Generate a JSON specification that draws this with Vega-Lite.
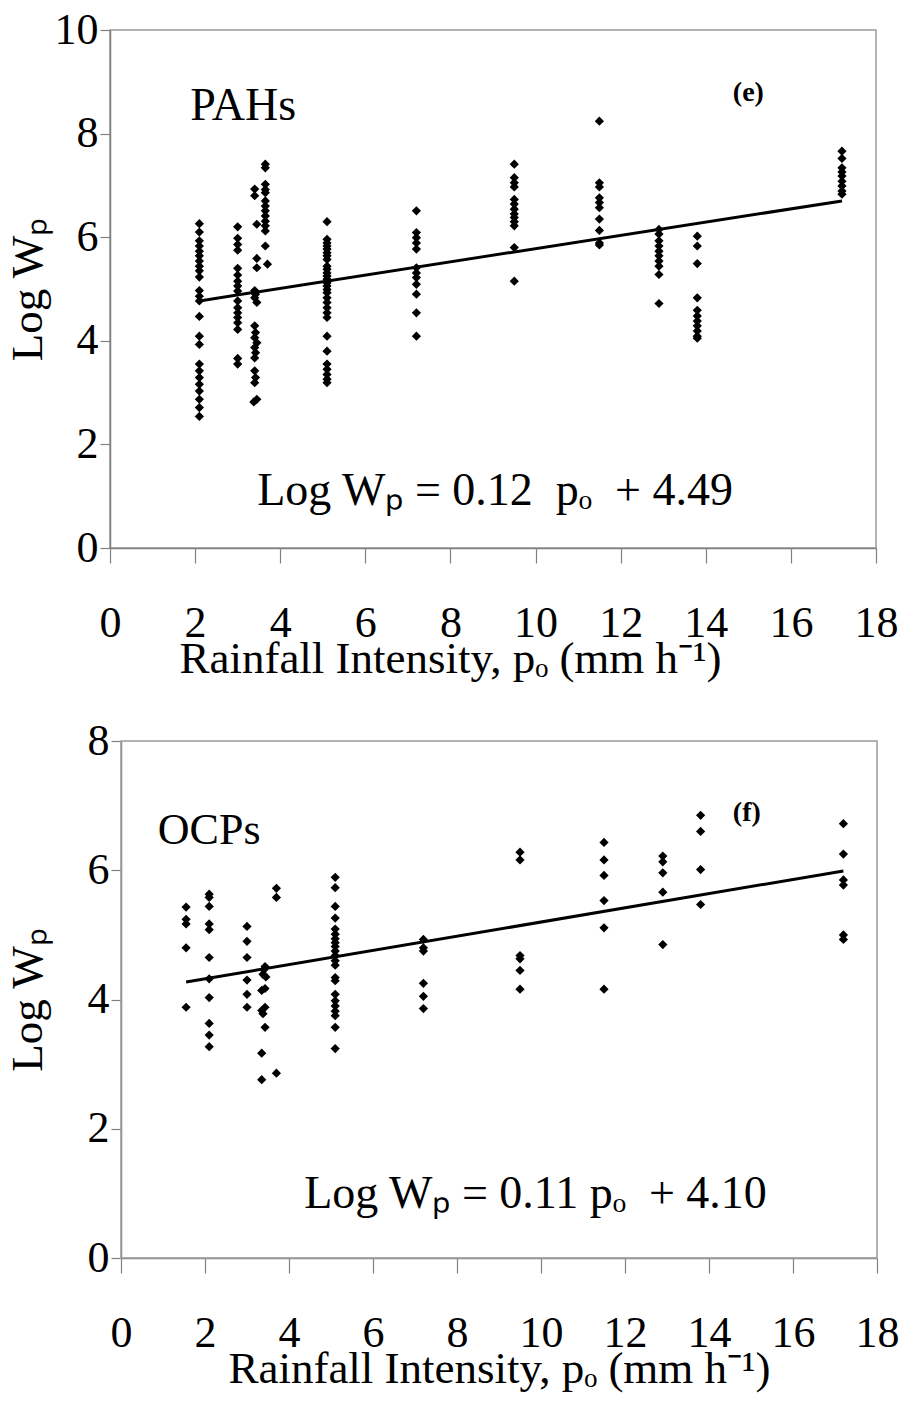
{
  "$schema": "https://vega.github.io/schema/vega-lite/v6.json",
  "padding": {"left": 4, "top": 7, "right": 3, "bottom": 3},
  "background": "white",
  "spacing": 37,
  "config": {
    "font": "Liberation Serif",
    "view": {"stroke": "#9a9a9a", "strokeWidth": 1.5},
    "axis": {"grid": false, "domainColor": "#808080", "domainWidth": 1.5, "tickColor": "#808080", "tickWidth": 1.2, "labelFont": "Liberation Serif", "titleFont": "Liberation Serif", "labelFontSize": 44, "titleFontSize": 45, "labelColor": "black", "titleColor": "black", "titleFontWeight": "normal"}
  },
  "datasets": {
    "pahs": [
      {"p": 2.1, "w": 6.26}, {"p": 2.1, "w": 6.10}, {"p": 2.1, "w": 5.93}, {"p": 2.1, "w": 5.83}, {"p": 2.1, "w": 5.73}, {"p": 2.1, "w": 5.64}, {"p": 2.1, "w": 5.54}, {"p": 2.1, "w": 5.44}, {"p": 2.1, "w": 5.35}, {"p": 2.1, "w": 5.23}, {"p": 2.1, "w": 4.97}, {"p": 2.1, "w": 4.86}, {"p": 2.1, "w": 4.77}, {"p": 2.1, "w": 4.47}, {"p": 2.1, "w": 4.09}, {"p": 2.1, "w": 3.93}, {"p": 2.1, "w": 3.55}, {"p": 2.1, "w": 3.42}, {"p": 2.1, "w": 3.29}, {"p": 2.1, "w": 3.16}, {"p": 2.1, "w": 3.03}, {"p": 2.1, "w": 2.87}, {"p": 2.1, "w": 2.71}, {"p": 2.1, "w": 2.54},
      {"p": 3.0, "w": 6.20}, {"p": 3.0, "w": 5.98}, {"p": 3.0, "w": 5.86}, {"p": 3.0, "w": 5.75}, {"p": 3.0, "w": 5.40}, {"p": 3.0, "w": 5.27}, {"p": 3.0, "w": 5.15}, {"p": 3.0, "w": 5.06}, {"p": 3.0, "w": 4.96}, {"p": 3.0, "w": 4.77}, {"p": 3.0, "w": 4.64}, {"p": 3.0, "w": 4.54}, {"p": 3.0, "w": 4.45}, {"p": 3.0, "w": 4.35}, {"p": 3.0, "w": 4.22}, {"p": 3.0, "w": 3.66}, {"p": 3.0, "w": 3.55},
      {"p": 3.4, "w": 6.93}, {"p": 3.4, "w": 6.80}, {"p": 3.45, "w": 6.25}, {"p": 3.45, "w": 5.59}, {"p": 3.45, "w": 5.41}, {"p": 3.4, "w": 4.97}, {"p": 3.42, "w": 4.90}, {"p": 3.4, "w": 4.83}, {"p": 3.45, "w": 4.74}, {"p": 3.4, "w": 4.29}, {"p": 3.42, "w": 4.16}, {"p": 3.4, "w": 4.06}, {"p": 3.45, "w": 3.96}, {"p": 3.4, "w": 3.87}, {"p": 3.42, "w": 3.77}, {"p": 3.4, "w": 3.67}, {"p": 3.4, "w": 3.42}, {"p": 3.42, "w": 3.29}, {"p": 3.4, "w": 3.19}, {"p": 3.45, "w": 2.87}, {"p": 3.38, "w": 2.82},
      {"p": 3.65, "w": 7.41}, {"p": 3.65, "w": 7.34}, {"p": 3.65, "w": 7.02}, {"p": 3.65, "w": 6.92}, {"p": 3.65, "w": 6.86}, {"p": 3.65, "w": 6.70}, {"p": 3.65, "w": 6.60}, {"p": 3.65, "w": 6.51}, {"p": 3.65, "w": 6.41}, {"p": 3.65, "w": 6.31}, {"p": 3.65, "w": 6.22}, {"p": 3.65, "w": 6.12}, {"p": 3.65, "w": 5.83}, {"p": 3.7, "w": 5.48},
      {"p": 5.1, "w": 6.30}, {"p": 5.1, "w": 5.96}, {"p": 5.1, "w": 5.89}, {"p": 5.1, "w": 5.83}, {"p": 5.1, "w": 5.77}, {"p": 5.1, "w": 5.70}, {"p": 5.1, "w": 5.64}, {"p": 5.1, "w": 5.57}, {"p": 5.1, "w": 5.44}, {"p": 5.1, "w": 5.38}, {"p": 5.1, "w": 5.31}, {"p": 5.1, "w": 5.25}, {"p": 5.1, "w": 5.19}, {"p": 5.1, "w": 5.12}, {"p": 5.1, "w": 5.06}, {"p": 5.1, "w": 4.99}, {"p": 5.1, "w": 4.93}, {"p": 5.1, "w": 4.83}, {"p": 5.1, "w": 4.74}, {"p": 5.1, "w": 4.64}, {"p": 5.1, "w": 4.54}, {"p": 5.1, "w": 4.45}, {"p": 5.1, "w": 4.09}, {"p": 5.1, "w": 3.80}, {"p": 5.1, "w": 3.55}, {"p": 5.1, "w": 3.45}, {"p": 5.1, "w": 3.35}, {"p": 5.1, "w": 3.26}, {"p": 5.1, "w": 3.19},
      {"p": 7.2, "w": 6.51}, {"p": 7.2, "w": 6.09}, {"p": 7.2, "w": 5.99}, {"p": 7.2, "w": 5.89}, {"p": 7.2, "w": 5.77}, {"p": 7.2, "w": 5.41}, {"p": 7.2, "w": 5.31}, {"p": 7.2, "w": 5.22}, {"p": 7.2, "w": 5.09}, {"p": 7.2, "w": 4.90}, {"p": 7.2, "w": 4.54}, {"p": 7.2, "w": 4.09},
      {"p": 9.5, "w": 7.41}, {"p": 9.5, "w": 7.15}, {"p": 9.5, "w": 7.05}, {"p": 9.5, "w": 6.97}, {"p": 9.5, "w": 6.73}, {"p": 9.5, "w": 6.64}, {"p": 9.5, "w": 6.54}, {"p": 9.5, "w": 6.45}, {"p": 9.5, "w": 6.38}, {"p": 9.5, "w": 6.30}, {"p": 9.5, "w": 6.22}, {"p": 9.5, "w": 5.80}, {"p": 9.5, "w": 5.15},
      {"p": 11.5, "w": 8.24}, {"p": 11.5, "w": 7.05}, {"p": 11.5, "w": 6.97}, {"p": 11.5, "w": 6.76}, {"p": 11.5, "w": 6.67}, {"p": 11.5, "w": 6.57}, {"p": 11.5, "w": 6.35}, {"p": 11.5, "w": 6.13}, {"p": 11.5, "w": 5.89}, {"p": 11.5, "w": 5.85},
      {"p": 12.9, "w": 6.15}, {"p": 12.9, "w": 6.06}, {"p": 12.9, "w": 5.93}, {"p": 12.9, "w": 5.83}, {"p": 12.9, "w": 5.73}, {"p": 12.9, "w": 5.64}, {"p": 12.9, "w": 5.54}, {"p": 12.9, "w": 5.44}, {"p": 12.9, "w": 5.28}, {"p": 12.9, "w": 4.72},
      {"p": 13.8, "w": 6.02}, {"p": 13.8, "w": 5.83}, {"p": 13.8, "w": 5.49}, {"p": 13.8, "w": 4.83}, {"p": 13.8, "w": 4.59}, {"p": 13.8, "w": 4.48}, {"p": 13.8, "w": 4.38}, {"p": 13.8, "w": 4.29}, {"p": 13.8, "w": 4.19}, {"p": 13.8, "w": 4.09}, {"p": 13.8, "w": 4.05},
      {"p": 17.2, "w": 7.66}, {"p": 17.2, "w": 7.52}, {"p": 17.2, "w": 7.34}, {"p": 17.2, "w": 7.26}, {"p": 17.2, "w": 7.18}, {"p": 17.2, "w": 7.08}, {"p": 17.2, "w": 6.99}, {"p": 17.2, "w": 6.89}, {"p": 17.2, "w": 6.83}
    ],
    "pahs_fit": [{"p": 2.1, "w": 4.77}, {"p": 17.2, "w": 6.70}],
    "ocps": [
      {"p": 1.55, "w": 5.43}, {"p": 1.55, "w": 5.24}, {"p": 1.55, "w": 5.17}, {"p": 1.55, "w": 4.80}, {"p": 1.55, "w": 3.88},
      {"p": 2.1, "w": 5.63}, {"p": 2.1, "w": 5.58}, {"p": 2.1, "w": 5.44}, {"p": 2.1, "w": 5.17}, {"p": 2.1, "w": 5.08}, {"p": 2.1, "w": 4.65}, {"p": 2.1, "w": 4.32}, {"p": 2.1, "w": 4.03}, {"p": 2.1, "w": 3.63}, {"p": 2.1, "w": 3.45}, {"p": 2.1, "w": 3.27},
      {"p": 3.0, "w": 5.13}, {"p": 3.0, "w": 4.90}, {"p": 3.0, "w": 4.65}, {"p": 3.0, "w": 4.30}, {"p": 3.0, "w": 4.08}, {"p": 3.0, "w": 3.88},
      {"p": 3.43, "w": 4.51}, {"p": 3.4, "w": 4.46}, {"p": 3.38, "w": 4.39}, {"p": 3.45, "w": 4.35}, {"p": 3.43, "w": 4.17}, {"p": 3.35, "w": 4.14}, {"p": 3.43, "w": 3.88}, {"p": 3.35, "w": 3.83}, {"p": 3.38, "w": 3.78}, {"p": 3.43, "w": 3.57}, {"p": 3.35, "w": 3.17}, {"p": 3.35, "w": 2.76},
      {"p": 3.7, "w": 5.72}, {"p": 3.7, "w": 5.58}, {"p": 3.7, "w": 2.86},
      {"p": 5.1, "w": 5.89}, {"p": 5.1, "w": 5.73}, {"p": 5.1, "w": 5.44}, {"p": 5.1, "w": 5.26}, {"p": 5.1, "w": 5.09}, {"p": 5.1, "w": 5.01}, {"p": 5.1, "w": 4.94}, {"p": 5.1, "w": 4.88}, {"p": 5.1, "w": 4.82}, {"p": 5.1, "w": 4.75}, {"p": 5.1, "w": 4.68}, {"p": 5.1, "w": 4.60}, {"p": 5.1, "w": 4.53}, {"p": 5.1, "w": 4.34}, {"p": 5.1, "w": 4.29}, {"p": 5.1, "w": 4.08}, {"p": 5.1, "w": 3.98}, {"p": 5.1, "w": 3.90}, {"p": 5.1, "w": 3.82}, {"p": 5.1, "w": 3.75}, {"p": 5.1, "w": 3.57}, {"p": 5.1, "w": 3.24},
      {"p": 7.2, "w": 4.93}, {"p": 7.2, "w": 4.80}, {"p": 7.2, "w": 4.75}, {"p": 7.2, "w": 4.25}, {"p": 7.2, "w": 4.05}, {"p": 7.2, "w": 3.86},
      {"p": 9.5, "w": 6.28}, {"p": 9.5, "w": 6.16}, {"p": 9.5, "w": 4.68}, {"p": 9.5, "w": 4.63}, {"p": 9.5, "w": 4.45}, {"p": 9.5, "w": 4.16},
      {"p": 11.5, "w": 6.43}, {"p": 11.5, "w": 6.16}, {"p": 11.5, "w": 5.92}, {"p": 11.5, "w": 5.53}, {"p": 11.5, "w": 5.11}, {"p": 11.5, "w": 4.16},
      {"p": 12.9, "w": 6.22}, {"p": 12.9, "w": 6.13}, {"p": 12.9, "w": 5.96}, {"p": 12.9, "w": 5.66}, {"p": 12.9, "w": 4.85},
      {"p": 13.8, "w": 6.85}, {"p": 13.8, "w": 6.60}, {"p": 13.8, "w": 6.01}, {"p": 13.8, "w": 5.47},
      {"p": 17.2, "w": 6.72}, {"p": 17.2, "w": 6.25}, {"p": 17.2, "w": 5.85}, {"p": 17.2, "w": 5.77}, {"p": 17.2, "w": 5.00}, {"p": 17.2, "w": 4.93}
    ],
    "ocps_fit": [{"p": 1.55, "w": 4.27}, {"p": 17.2, "w": 5.99}]
  },
  "vconcat": [
    {
      "width": 766,
      "height": 518,
      "layer": [
        {
          "data": {"name": "pahs"},
          "mark": {"type": "point", "shape": "diamond", "filled": true, "color": "black", "size": 85, "opacity": 1},
          "encoding": {
            "x": {"field": "p", "type": "quantitative", "scale": {"domain": [0, 18], "nice": false, "zero": false},
              "axis": {"values": [0, 2, 4, 6, 8, 10, 12, 14, 16, 18], "format": "d", "tickSize": 15, "labelPadding": 38, "titlePadding": -9, "titleX": 340, "title": "Rainfall Intensity, pₒ (mm h⁻¹)", "labelFlush": false}},
            "y": {"field": "w", "type": "quantitative", "scale": {"domain": [0, 10], "nice": false, "zero": false},
              "axis": {"values": [0, 2, 4, 6, 8, 10], "format": "d", "tickSize": 10, "labelPadding": 2, "titlePadding": 4, "title": "Log Wₚ", "labelFlush": false}}
          }
        },
        {
          "data": {"name": "pahs_fit"},
          "mark": {"type": "line", "color": "black", "strokeWidth": 3},
          "encoding": {"x": {"field": "p", "type": "quantitative"}, "y": {"field": "w", "type": "quantitative"}}
        },
        {
          "data": {"values": [{}]},
          "mark": {"type": "text", "text": "PAHs", "fontSize": 46, "font": "Liberation Serif", "align": "center", "baseline": "middle", "color": "black"},
          "encoding": {"x": {"datum": 3.13}, "y": {"datum": 8.53}}
        },
        {
          "data": {"values": [{}]},
          "mark": {"type": "text", "text": "(e)", "fontSize": 28, "fontWeight": "bold", "font": "Liberation Serif", "align": "center", "baseline": "middle", "color": "black"},
          "encoding": {"x": {"datum": 15.0}, "y": {"datum": 8.78}}
        },
        {
          "data": {"values": [{}]},
          "mark": {"type": "text", "text": "Log Wₚ = 0.12\u00a0\u00a0pₒ\u00a0\u00a0+ 4.49", "fontSize": 46, "font": "Liberation Serif", "align": "center", "baseline": "middle", "color": "black"},
          "encoding": {"x": {"datum": 9.05}, "y": {"datum": 1.1}}
        }
      ]
    },
    {
      "width": 767,
      "height": 517,
      "view": {"stroke": null},
      "layer": [
        {
          "data": {"values": [{}]},
          "mark": {"type": "rect", "filled": false, "stroke": "#9a9a9a", "strokeWidth": 1.5, "color": "#9a9a9a"},
          "encoding": {"x": {"datum": 0}, "x2": {"datum": 18}, "y": {"datum": 0}, "y2": {"datum": 8}}
        },
        {
          "data": {"name": "ocps"},
          "mark": {"type": "point", "shape": "diamond", "filled": true, "color": "black", "size": 85, "opacity": 1},
          "encoding": {
            "x": {"field": "p", "type": "quantitative", "scale": {"domain": [0, 18], "range": [11, 767], "nice": false, "zero": false},
              "axis": {"values": [0, 2, 4, 6, 8, 10, 12, 14, 16, 18], "format": "d", "tickSize": 15, "labelPadding": 38, "titlePadding": -9, "titleX": 389, "title": "Rainfall Intensity, pₒ (mm h⁻¹)", "labelFlush": false}},
            "y": {"field": "w", "type": "quantitative", "scale": {"domain": [0, 8], "nice": false, "zero": false},
              "axis": {"values": [0, 2, 4, 6, 8], "format": "d", "offset": -11, "tickSize": 10, "labelPadding": 2, "titlePadding": 37, "title": "Log Wₚ", "labelFlush": false}}
          }
        },
        {
          "data": {"name": "ocps_fit"},
          "mark": {"type": "line", "color": "black", "strokeWidth": 3},
          "encoding": {"x": {"field": "p", "type": "quantitative"}, "y": {"field": "w", "type": "quantitative"}}
        },
        {
          "data": {"values": [{}]},
          "mark": {"type": "text", "text": "OCPs", "fontSize": 44, "font": "Liberation Serif", "align": "center", "baseline": "middle", "color": "black"},
          "encoding": {"x": {"datum": 2.1}, "y": {"datum": 6.61}}
        },
        {
          "data": {"values": [{}]},
          "mark": {"type": "text", "text": "(f)", "fontSize": 28, "fontWeight": "bold", "font": "Liberation Serif", "align": "center", "baseline": "middle", "color": "black"},
          "encoding": {"x": {"datum": 14.9}, "y": {"datum": 6.88}}
        },
        {
          "data": {"values": [{}]},
          "mark": {"type": "text", "text": "Log Wₚ = 0.11 pₒ\u00a0\u00a0+ 4.10", "fontSize": 46, "font": "Liberation Serif", "align": "center", "baseline": "middle", "color": "black"},
          "encoding": {"x": {"datum": 9.87}, "y": {"datum": 0.99}}
        }
      ]
    }
  ]
}
